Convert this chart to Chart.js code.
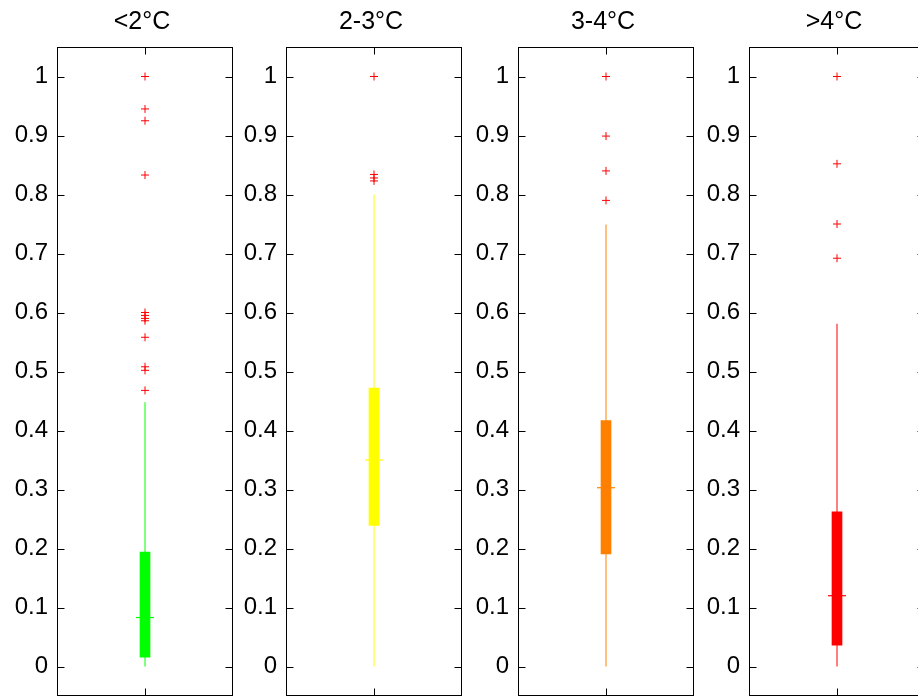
<!DOCTYPE html>
<html>
<head>
<meta charset="UTF-8">
<title>Boxplots</title>
<script src="https://cdn.jsdelivr.net/npm/chart.js"></script>
<style>
  body { margin: 0; width: 918px; height: 698px; overflow: hidden; background: #fff; position: relative; }
  .panel { position: absolute; top: 0; }
</style>
</head>
<body>
<script>
    // data
    const categories = ['<2°C', '2-3°C', '3-4°C', '>4°C'];
    const boxColors = ['#00ff00', '#ffff00', '#ff8000', '#ff0000'];
    const whiskerLow = [0, 0, 0, 0];
    const whiskerHigh = [0.448, 0.800, 0.749, 0.581];
    const q1 = [0.016, 0.239, 0.191, 0.036];
    const q3 = [0.194, 0.472, 0.417, 0.262];
    const medians = [0.083, 0.350, 0.303, 0.120];
    const outliers1 = [1.0, 0.945, 0.925, 0.833, 0.600, 0.595, 0.590, 0.586, 0.558, 0.508, 0.502, 0.468];
    const outliers2 = [1.0, 0.834, 0.828, 0.823];
    const outliers3 = [1.0, 0.899, 0.840, 0.790];
    const outliers4 = [1.0, 0.852, 0.750, 0.692];
    const outliers = [outliers1, outliers2, outliers3, outliers4];
    const yTicks = [0, 0.1, 0.2, 0.3, 0.4, 0.5, 0.6, 0.7, 0.8, 0.9, 1];

    // layout
    const panelLeft = [57, 286, 518, 749];
    const axisW = 57, plotW = 176, H = 698;
    const FONT = '"Liberation Sans", Arial, Helvetica, sans-serif';

    // frame, inner ticks and title (matlab look)
    const framePlugin = {
        id: 'frame',
        afterDraw(chart, args, opts) {
            const ctx = chart.ctx, a = chart.chartArea;
            const y = chart.scales.y, x = chart.scales.x;
            const L = Math.round(a.left) + 0.5, R = Math.round(a.right) - 0.5;
            const T = Math.round(a.top) + 0.5, B = Math.round(a.bottom) - 0.5;
            ctx.save();
            ctx.strokeStyle = '#000';
            ctx.lineWidth = 1;
            ctx.strokeRect(L, T, R - L, B - T);
            ctx.beginPath();
            yTicks.forEach(v => {
                const py = Math.round(y.getPixelForValue(v)) + 0.5;
                ctx.moveTo(L, py); ctx.lineTo(L + 7, py);
                ctx.moveTo(R, py); ctx.lineTo(R - 7, py);
            });
            const cx = Math.round(x.getPixelForValue(1)) + 0.5;
            ctx.moveTo(cx, T); ctx.lineTo(cx, T + 7);
            ctx.moveTo(cx, B); ctx.lineTo(cx, B - 7);
            ctx.stroke();
            ctx.fillStyle = '#000';
            ctx.font = '25px ' + FONT;
            ctx.textAlign = 'center';
            ctx.textBaseline = 'alphabetic';
            ctx.fillText(opts.text, (a.left + a.right) / 2 - 3, 29);
            ctx.restore();
        }
    };

    categories.forEach((cat, i) => {
        const div = document.createElement('div');
        div.className = 'panel';
        div.style.left = (panelLeft[i] - axisW) + 'px';
        const cv = document.createElement('canvas');
        cv.width = axisW + plotW;
        cv.height = H;
        div.appendChild(cv);
        document.body.appendChild(div);

        new Chart(cv.getContext('2d'), {
            type: 'scatter',
            data: {
                datasets: [
                    {
                        type: 'line',
                        data: [{ x: 1, y: whiskerLow[i] }, { x: 1, y: whiskerHigh[i] }],
                        borderColor: boxColors[i],
                        backgroundColor: boxColors[i],
                        borderWidth: 1,
                        pointRadius: 0,
                        order: 4
                    },
                    {
                        type: 'bar',
                        data: [{ x: 1, y: [q1[i], q3[i]] }],
                        backgroundColor: boxColors[i],
                        borderColor: boxColors[i],
                        barThickness: 10,
                        borderWidth: 0,
                        order: 3
                    },
                    {
                        type: 'scatter',
                        data: [{ x: 1, y: medians[i] }],
                        borderColor: boxColors[i],
                        backgroundColor: boxColors[i],
                        pointStyle: 'line',
                        pointRadius: 9,
                        pointBorderColor: boxColors[i],
                        pointBackgroundColor: boxColors[i],
                        pointBorderWidth: 1.2,
                        order: 2
                    },
                    {
                        type: 'scatter',
                        data: outliers[i].map(v => ({ x: 1, y: v })),
                        borderColor: '#ff0000',
                        backgroundColor: '#ff0000',
                        pointStyle: 'cross',
                        pointRadius: 4,
                        pointBorderColor: '#ff0000',
                        pointBackgroundColor: '#ff0000',
                        pointBorderWidth: 1,
                        order: 1
                    }
                ]
            },
            options: {
                responsive: false,
                animation: false,
                events: [],
                layout: { autoPadding: false, padding: { top: 47, bottom: 2, left: 0, right: 0 } },
                plugins: {
                    legend: { display: false },
                    tooltip: { enabled: false },
                    frame: { text: cat }
                },
                scales: {
                    x: { type: 'linear', min: 0, max: 2, display: false },
                    y: {
                        type: 'linear',
                        min: -0.05,
                        max: 1.05,
                        afterBuildTicks: s => { s.ticks = yTicks.map(v => ({ value: v })); },
                        afterFit: s => { s.width = axisW; s.paddingTop = 0; s.paddingBottom = 0; },
                        grid: { display: false, drawTicks: false },
                        border: { display: false },
                        ticks: {
                            color: '#000',
                            padding: 9,
                            font: { size: 24, family: FONT },
                            callback: v => String(Math.round(v * 10) / 10)
                        }
                    }
                }
            },
            plugins: [framePlugin]
        });
    });
</script>
</body>
</html>
